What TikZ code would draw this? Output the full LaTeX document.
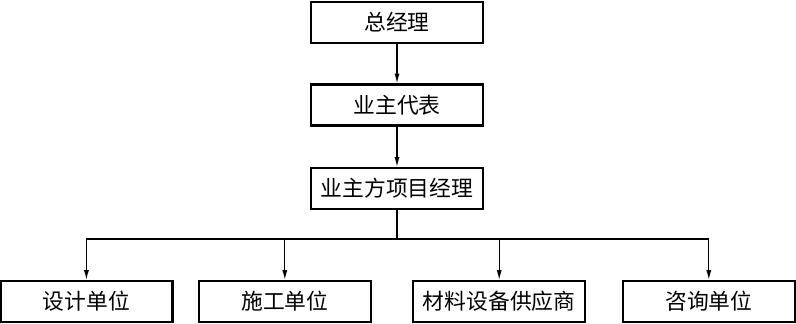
\documentclass[tikz,border=0pt]{standalone}
\usepackage{fontspec}
\newfontfamily\cjk{Noto Sans CJK SC}
\usetikzlibrary{arrows.meta}
\begin{document}
\begin{tikzpicture}[
        org box/.style={
            draw,
            line width=1.7pt,
            align=center,
            minimum width=4.3cm,
            minimum height=1.02cm,
            inner sep=0pt,
            font=\cjk\fontsize{15.5pt}{18pt}\selectfont
        },
        link/.style={
            line width=0.9pt,
            -{Latex[length=7pt,width=3.6pt]}
        }
    ]
        \useasboundingbox (0,0) rectangle (19.9,-8.075);

        \node[org box] (manager) at (9.925,-0.5625) {总经理};
        \node[org box] (owner) at (9.925,-2.625) {业主代表};
        \node[org box] (pm) at (9.925,-4.7125) {业主方项目经理};

        \node[org box] (design) at (2.16,-7.54) {设计单位};
        \node[org box] (build) at (7.12,-7.54) {施工单位};
        \node[org box] (supply) at (12.48,-7.54) {材料设备供应商};
        \node[org box] (consult) at (17.72,-7.54) {咨询单位};

        \coordinate (bus) at (9.925,-5.975);

        \draw[link] (manager.south) -- (owner.north);
        \draw[link] (owner.south) -- (pm.north);
        \draw[line width=0.9pt] (pm.south) -- (bus);
        \draw[link] (bus) -| (design.north);
        \draw[link] (bus) -| (build.north);
        \draw[link] (bus) -| (supply.north);
        \draw[link] (bus) -| (consult.north);
    \end{tikzpicture}
\end{document}
